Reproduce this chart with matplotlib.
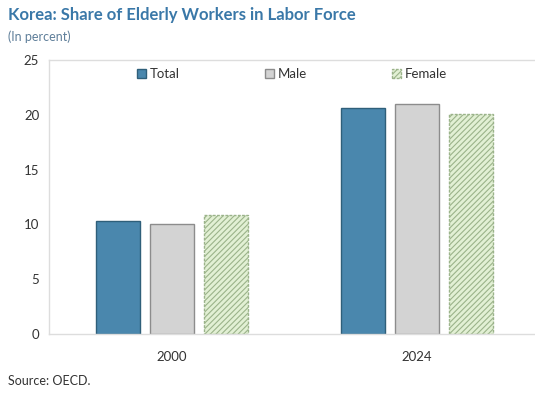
import matplotlib
matplotlib.use("Agg")
from matplotlib import pyplot as plt
import numpy as np

plt.rcParams['font.family'] = ['Lato', 'DejaVu Sans']
plt.rcParams['hatch.linewidth'] = 0.8

years = ["2000", "2024"]
total = [10.35, 20.6]
male = [10.05, 20.95]
female = [10.85, 20.1]

fig = plt.figure(figsize=(5.35, 3.94), dpi=100)
ax = fig.add_axes([49 / 535, 1 - 334 / 394, 486 / 535, 274 / 394])

x = np.arange(len(years))
w = 0.18
step = 0.22

ax.bar(x - step, total, w, color="#4a87ad", edgecolor="#2f5f7a", linewidth=1.0, label="Total")
ax.bar(x, male, w, color="#d3d3d3", edgecolor="#8c8c8c", linewidth=1.0, label="Male")
ax.bar(x + step, female, w, color="#e2f0d4", edgecolor="#8a9a80", linewidth=1.0,
       linestyle=(0, (2, 1)), hatch="//////", label="Female")
# hatch colour follows edgecolor; soften it to a green
for p in ax.patches[-2:]:
    p.set_edgecolor("#9bb38a")

ax.set_xlim(-0.5, 1.48)
ax.set_ylim(0, 25)
ax.set_yticks([0, 5, 10, 15, 20, 25])
ax.set_xticks(x)
ax.set_xticklabels(years)
ax.tick_params(axis="both", length=0, labelsize=9.5, colors="#333333", pad=7)
ax.tick_params(axis="x", pad=12)

for s in ["top", "bottom", "left"]:
    ax.spines[s].set_color("#dddddd")
    ax.spines[s].set_linewidth(1.0)
ax.spines["right"].set_visible(False)

leg = ax.legend(loc="upper center", bbox_to_anchor=(0.5, 1.0), ncol=3, frameon=False,
                fontsize=9.5, handlelength=0.7, handleheight=0.7, handletextpad=0.3,
                columnspacing=6.4, borderaxespad=0.2)
for t in leg.get_texts():
    t.set_color("#333333")

fig.text(8 / 535, 1 - 15 / 394, "Korea: Share of Elderly Workers in Labor Force",
         fontsize=12, fontweight="bold", color="#3a78a8", va="center", ha="left")
fig.text(8 / 535, 1 - 37 / 394, "(In percent)", fontsize=9, color="#5f7f9a",
         va="center", ha="left")
fig.text(8 / 535, 1 - 381 / 394, "Source: OECD.", fontsize=9, color="#333333",
         va="center", ha="left")

fig.savefig("out.png", dpi=100)
